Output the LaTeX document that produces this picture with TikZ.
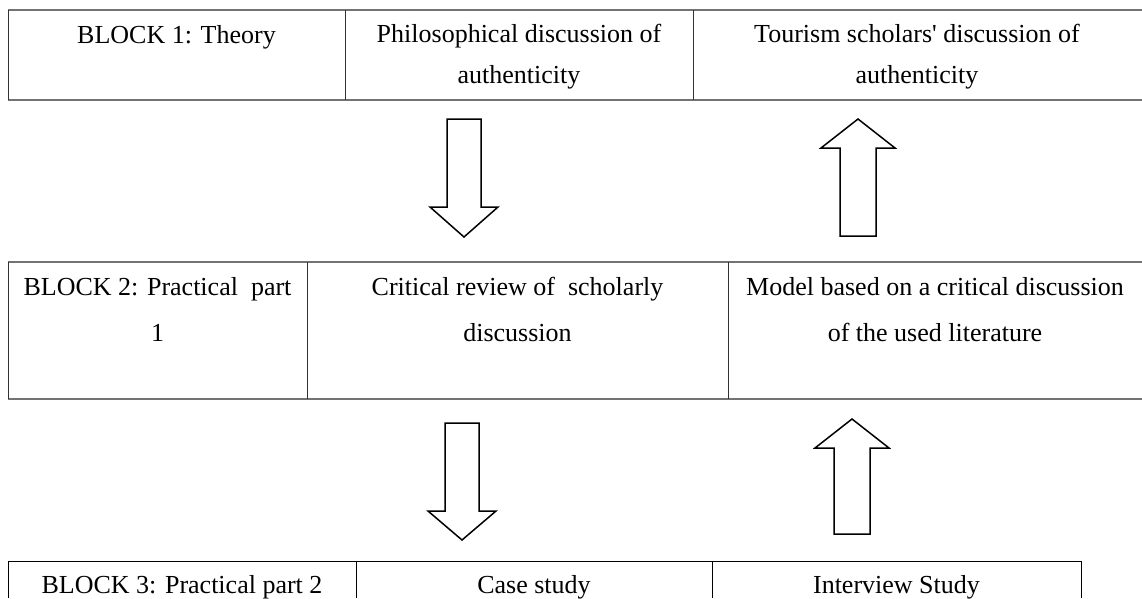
\documentclass[tikz,border=0pt]{standalone}
\usepackage{fontspec}
\setmainfont{Liberation Serif}

\newcommand\arrdown[4]{% centre, top, head base, tip
  \draw[blockarrow] (#1-17,#2) -- (#1+17,#2) -- (#1+17,#3) -- (#1+34,#3)
    -- (#1,#4) -- (#1-34,#3) -- (#1-17,#3) -- cycle;}
\newcommand\arrup[4]{% centre, tip, head base, bottom
  \draw[blockarrow] (#1,#2) -- (#1+37,#3) -- (#1+18,#3) -- (#1+18,#4)
    -- (#1-18,#4) -- (#1-18,#3) -- (#1-37,#3) -- cycle;}

\begin{document}
\begin{tikzpicture}[
        x=1pt, y=-1pt,
        cell/.style={anchor=base, align=center, inner sep=0pt, font=\fontsize{26}{41}\selectfont},
        wide/.style={font=\fontsize{26}{46}\selectfont},
        hline/.style={draw=black!55, line width=1.6pt},
        vline/.style={draw=black!80, line width=1pt},
        bline/.style={draw=black, line width=1pt},
        blockarrow/.style={draw=black, line width=1.5pt, fill=white},
    ]
    \useasboundingbox (0,0) rectangle (1142,598);

    % block 1 (multi-line cells sit on their last baseline)
    \draw[hline] (8,10) -- (1142,10);
    \draw[hline] (8,100) -- (1142,100);
    \draw[vline] (8,10) -- (8,100);
    \draw[vline] (345,10) -- (345,100);
    \draw[vline] (693,10) -- (693,100);
    \node[cell](theory) at (176.5,43) {BLOCK 1: Theory};
    \node[cell](philo) at (519,83) {Philosophical discussion of\\authenticity};
    \node[cell](tourism) at (917,83) {Tourism scholars\textquotesingle{} discussion of\\authenticity};

    % block 2
    \draw[hline] (8,262) -- (1142,262);
    \draw[hline] (8,399) -- (1142,399);
    \draw[vline] (8,262) -- (8,399);
    \draw[vline] (307,262) -- (307,399);
    \draw[vline] (728,262) -- (728,399);
    \node[cell, wide](prac1) at (157.5,341) {BLOCK 2: Practical\ \ part\\1};
    \node[cell, wide](review) at (517.5,341) {Critical review of\ \ scholarly\\discussion};
    \node[cell, wide](model) at (935,341) {Model based on a critical discussion\\of the used literature};

    % block 3
    \draw[bline] (8,598) -- (8,561) -- (1081,561) -- (1081,598);
    \draw[bline] (356,561) -- (356,598);
    \draw[bline] (712,561) -- (712,598);
    \node[cell](prac2) at (182,593) {BLOCK 3: Practical part 2};
    \node[cell](case) at (534,593) {Case study};
    \node[cell](interview) at (896.5,593) {Interview Study};

    % arrows
    \arrdown{464}{119}{207}{237}
    \arrup{858}{119}{148}{236}
    \arrdown{462}{423}{511}{540}
    \arrup{852}{419}{448}{534}
\end{tikzpicture}
\end{document}
